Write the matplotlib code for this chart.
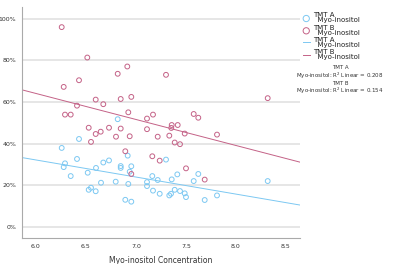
import matplotlib
matplotlib.use("Agg")
import matplotlib.pyplot as plt
import numpy as np

plt.rcParams["font.family"] = ["DejaVu Sans"]

# Myo-inositol concentration (same subjects for both series)
myo = [6.257, 6.277, 6.29, 6.347, 6.41, 6.43, 6.517, 6.527, 6.55, 6.597, 6.60,
       6.65, 6.673, 6.73, 6.797, 6.817, 6.847, 6.847, 6.893, 6.917, 6.923, 6.937,
       6.953, 6.953, 7.11, 7.11, 7.163, 7.17, 7.217, 7.237, 7.30, 7.333, 7.35,
       7.357, 7.387, 7.413, 7.44, 7.487, 7.50, 7.577, 7.623, 7.687, 7.81, 8.317]
tmt_a = [38.0, 28.8, 30.6, 24.5, 32.7, 42.3, 26.1, 17.9, 18.9, 17.2, 28.4,
         21.3, 31.0, 32.0, 21.8, 51.8, 29.3, 28.4, 13.1, 34.3, 20.7, 26.6,
         29.2, 12.2, 21.6, 19.7, 24.5, 17.5, 22.6, 16.0, 32.4, 15.2, 16.0,
         22.9, 17.9, 25.3, 17.3, 16.2, 14.4, 22.1, 25.5, 13.0, 15.2, 22.1]

myo_b = [6.257, 6.277, 6.29, 6.347, 6.41, 6.43, 6.513, 6.527, 6.55, 6.597, 6.597,
         6.647, 6.673, 6.73, 6.80, 6.817, 6.847, 6.847, 6.893, 6.913, 6.923, 6.937,
         6.953, 6.953, 7.11, 7.11, 7.163, 7.17, 7.217, 7.237, 7.30, 7.333, 7.353,
         7.357, 7.387, 7.417, 7.44, 7.487, 7.50, 7.577, 7.623, 7.687, 7.81, 8.317]
tmt_b = [96.0, 67.3, 54.0, 54.0, 58.3, 70.5, 81.4, 47.7, 40.9, 61.2, 44.7,
         45.8, 59.0, 47.7, 43.4, 73.6, 61.5, 47.3, 36.4, 77.1, 55.1, 43.6,
         62.5, 25.5, 52.1, 47.0, 34.0, 54.0, 43.4, 31.9, 73.1, 43.9, 47.6,
         49.0, 40.6, 49.0, 39.8, 44.9, 28.2, 54.3, 52.5, 22.8, 44.4, 61.9]

r2_a = 0.208
r2_b = 0.154

yticks = [0, 20, 40, 60, 80, 100]
xticks = [6.0, 6.5, 7.0, 7.5, 8.0, 8.5]

blue = "#7cc8f2"
pink = "#c46287"

fig = plt.figure(figsize=(4.0, 2.64), dpi=100)
ax = fig.add_axes([0.055, 0.098, 0.695, 0.875])

xlim = (5.86, 8.64)
ax.set_xlim(*xlim)
ax.set_ylim(-5.3, 105.6)

for y in yticks:
    ax.axhline(y, color="#e2e2e2", lw=1.2, zorder=0)

ax.scatter(myo, tmt_a, s=12, facecolors="none", edgecolors=blue, linewidths=0.7,
           label="TMT A\n  Myo-inositol", zorder=3)
ax.scatter(myo_b, tmt_b, s=12, facecolors="none", edgecolors=pink, linewidths=0.7,
           label="TMT B\n  Myo-inositol", zorder=3)

# fit lines from the data
xs = np.array(xlim)
ka, ba = np.polyfit(myo, tmt_a, 1)
kb, bb = np.polyfit(myo_b, tmt_b, 1)
ax.plot(xs, ka * xs + ba, color=blue, lw=0.7, label="TMT A\n  Myo-inositol", zorder=2)
ax.plot(xs, kb * xs + bb, color=pink, lw=0.7, label="TMT B\n  Myo-inositol", zorder=2)

ax.set_yticks(yticks)
ax.set_yticklabels([f"{v}%" for v in yticks])
ax.set_xticks(xticks)
ax.set_xticklabels([f"{v:.1f}" for v in xticks])
ax.tick_params(length=0, labelsize=4.5, colors="#333333", pad=4)

for s in ["top", "right"]:
    ax.spines[s].set_visible(False)
for s in ["left", "bottom"]:
    ax.spines[s].set_color("#aaaaaa")
    ax.spines[s].set_linewidth(0.8)

ax.set_xlabel("Myo-inositol Concentration", fontsize=5.5, color="#333333", labelpad=5)

leg = ax.legend(loc="upper left", bbox_to_anchor=(1.0, 0.99), frameon=False,
                fontsize=5.0, handlelength=1.0, handletextpad=0.5,
                labelspacing=0.15, borderaxespad=0.2, borderpad=0.2,
                markerscale=1.3)
for t in leg.get_texts():
    t.set_linespacing(0.85)
    t.set_color("#222222")

stats = (f"TMT A\nMyo-inositol: R$^2$ Linear = {r2_a}\n"
         f"TMT B\nMyo-inositol: R$^2$ Linear = {r2_b}")
fig.text(0.85, 0.752, stats, ha="center", va="top", fontsize=4.0,
         color="#333333", linespacing=1.0)

fig.savefig("out.png", dpi=100)
